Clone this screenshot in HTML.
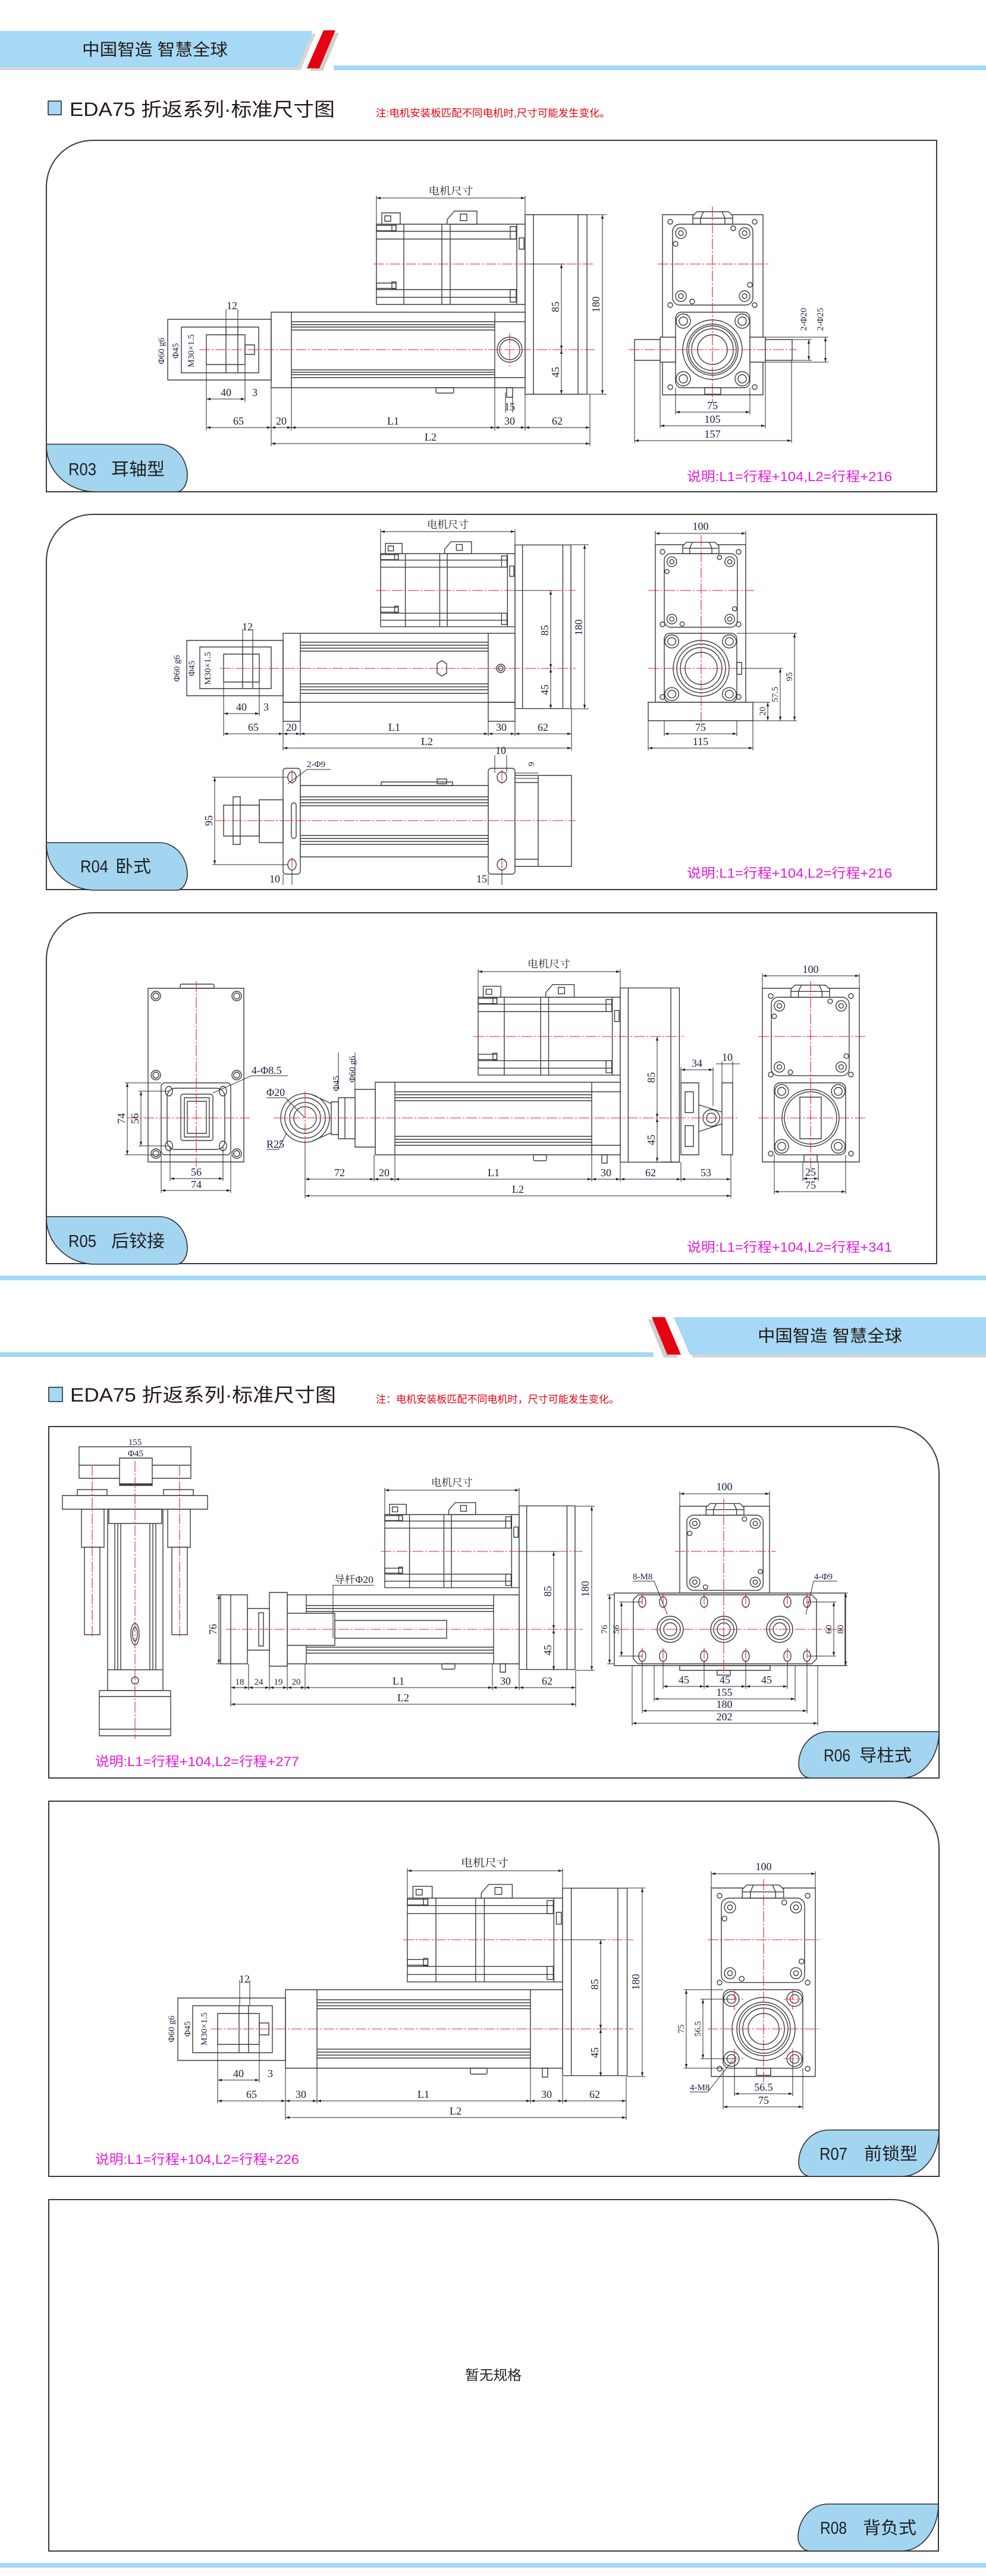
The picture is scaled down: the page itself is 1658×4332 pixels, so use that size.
<!DOCTYPE html>
<html><head><meta charset="utf-8">
<style>
html,body{margin:0;padding:0;background:#fff}
body{width:1658px;height:4332px;overflow:hidden}
svg{display:block}
.k{fill:none;stroke:#3b3b3b;stroke-width:1.4;vector-effect:non-scaling-stroke}
.kf{fill:#fff;stroke:#3b3b3b;stroke-width:1.4;vector-effect:non-scaling-stroke}
.c{fill:none;stroke:#e8202a;stroke-width:1.1;stroke-dasharray:18 3 3 3}
.d{fill:none;stroke:#2a2a2a;stroke-width:1}
.a{marker-start:url(#ar);marker-end:url(#ar)}
.n{font-family:"Liberation Serif",serif;font-size:18px;fill:#1c1c40}
.s{font-size:15px}
.m{text-anchor:middle}
.cj{font-family:"Liberation Sans","Noto Sans CJK SC",sans-serif}
.cs{font-family:"Liberation Serif","Noto Serif CJK SC",serif;fill:#222}
.pk{font-family:"Liberation Sans","Noto Sans CJK SC",sans-serif;font-size:22px;fill:#e619d9}
.tb{fill:#a3d5f1;stroke:#2e2e2e;stroke-width:1.6}
.tt{font-family:"Liberation Sans","Noto Sans CJK SC",sans-serif;font-size:29px;fill:#1e1e1e}
.pn{fill:none;stroke:#3a3a3a;stroke-width:2}
</style></head><body>
<svg width="1658" height="4332" viewBox="0 0 1658 4332" xmlns="http://www.w3.org/2000/svg">
<defs>
<marker id="ar" viewBox="0 0 10 10" refX="10" refY="5" markerWidth="7" markerHeight="7" orient="auto-start-reverse" markerUnits="userSpaceOnUse"><path d="M0 2L10 5L0 8Z" fill="#222"/></marker>
<g id="mp">
<rect class="kf" x="0" y="0" width="250" height="135"/>
<path class="k" d="M0 12H236M0 25H236M0 110H236M0 123H236M46 0V135M110 0V135M124 0V135M236 0V135"/>
<rect class="k" x="0" y="2" width="33" height="9"/><rect class="k" x="26" y="0" width="7" height="12"/>
<rect class="k" x="0" y="99" width="33" height="9"/><rect class="k" x="26" y="97" width="7" height="12"/>
<rect class="k" x="225" y="4" width="10" height="21"/><rect class="k" x="225" y="110" width="10" height="21"/>
<rect class="k" x="240" y="23" width="8" height="19"/>
<rect class="kf" x="9" y="-19" width="31" height="19"/><rect class="k" x="14" y="-14" width="10" height="9"/>
<path class="kf" d="M119 0V-8L131 -22H169V0Z"/><rect class="k" x="141" y="-17" width="11" height="11"/>
<rect class="kf" x="250" y="-16" width="104" height="302"/>
<path class="k" d="M264 -16V286M339 -16V286"/>
</g>
<g id="mf">
<rect class="kf" x="0" y="0" width="135" height="136" rx="12"/>
<circle class="k" cx="14" cy="15" r="9"/><circle class="k" cx="14" cy="15" r="4"/>
<circle class="k" cx="121" cy="15" r="9"/><circle class="k" cx="121" cy="15" r="4"/>
<circle class="k" cx="14" cy="121" r="9"/><circle class="k" cx="14" cy="121" r="4"/>
<circle class="k" cx="121" cy="121" r="9"/><circle class="k" cx="121" cy="121" r="4"/>
<circle class="k" cx="5" cy="33" r="4"/><circle class="k" cx="102" cy="7" r="4"/><circle class="k" cx="130" cy="102" r="4"/><circle class="k" cx="33" cy="130" r="4"/>
<path class="kf" d="M34 0V-14L41 -21H94L101 -14V0Z"/>
<path class="k" d="M34 -10H101M52 -21L47 -10V0M83 -21L88 -10V0"/>
</g>
<g id="lf">
<rect class="kf" x="0" y="0" width="125" height="127" rx="10"/>
<circle class="k" cx="13" cy="15" r="12"/><circle class="k" cx="13" cy="15" r="7"/>
<circle class="k" cx="112" cy="15" r="12"/><circle class="k" cx="112" cy="15" r="7"/>
<circle class="k" cx="13" cy="112" r="12"/><circle class="k" cx="13" cy="112" r="7"/>
<circle class="k" cx="112" cy="112" r="12"/><circle class="k" cx="112" cy="112" r="7"/>
</g>
</defs>

<!-- ============ HEADER 1 ============ -->
<polygon points="0,57 531,57 505,118 0,118" fill="#d6d6d6"/>
<polygon points="0,52 526,52 500,113 0,113" fill="#a5d9f5"/>
<polygon points="550,55 570,55 543,119 522,119" fill="#cfcfcf"/>
<polygon points="544,51 564,51 537,115 516,115" fill="#e60012"/>
<rect x="561" y="110" width="1097" height="8" fill="#a5d9f5"/>
<text x="138" y="93" class="cj" font-size="28" fill="#231815" textLength="245" lengthAdjust="spacingAndGlyphs">中国智造 智慧全球</text>
<rect x="81" y="170" width="22" height="23" fill="#a5d9f5" stroke="#222" stroke-width="1.5"/>
<text x="117" y="195" class="cj" font-size="32" fill="#231815" textLength="446" lengthAdjust="spacingAndGlyphs">EDA75 折返系列·标准尺寸图</text>
<text x="632" y="196" class="cj" font-size="17" fill="#e60012" textLength="394" lengthAdjust="spacingAndGlyphs">注:电机安装板匹配不同电机时,尺寸可能发生变化。</text>

<!-- ============ R03 ============ -->
<path class="pn" d="M78 827V314A78 78 0 0 1 156 236H1575V827Z"/>
<use href="#mp" transform="translate(633,377)"/>
<rect class="kf" x="456" y="525" width="427" height="127"/>
<path class="k" d="M490 525V652M832 525V652M490 541H832M490 546H832M490 550H832M490 555H832M490 622H832M490 626H832M490 630H832M490 635H832M832 541H883M832 635H883"/>
<circle class="k" cx="857" cy="588" r="21"/><circle class="k" cx="857" cy="588" r="17"/>
<rect class="k" x="733" y="652" width="30" height="9" rx="2"/><rect class="k" x="852" y="652" width="10" height="16"/>
<rect class="k" x="282" y="537" width="174" height="102"/>
<rect class="k" x="305" y="550" width="130" height="77"/>
<rect class="k" x="347" y="563" width="65" height="50"/>
<path class="k" d="M380 550V627M400 550V627"/>
<rect class="k" x="412" y="580" width="16" height="16"/>
<path class="c" d="M628 444H1000M335 588H1000M857 560V616"/>
<path class="d" d="M633 329V377M883 329V377M883 444H950M987 663H1020M987 361H1020"/>
<path class="d a" d="M633 333H883"/>
<text class="cs m" x="758" y="327" font-size="17" textLength="75" lengthAdjust="spacingAndGlyphs">电机尺寸</text>
<path class="d a" d="M944 444V588"/><path class="d a" d="M944 588V663"/><path class="d a" d="M1013 361V663"/>
<text class="n m" transform="translate(940,516) rotate(-90)">85</text>
<text class="n m" transform="translate(940,626) rotate(-90)">45</text>
<text class="n m" transform="translate(1008,512) rotate(-90)">180</text>
<path class="d" d="M347 613V724M412 613V676M456 652V750M490 652V724M832 652V724M883 663V724M992 663V750M380 520V563M400 520V563M850 660V694M862 660V694"/>
<path class="d a" d="M347 671H412"/>
<text class="n m" x="380" y="666">40</text><text class="n" x="424" y="666">3</text>
<text class="n m" x="390" y="520">12</text><text class="n m" x="857" y="690">15</text>
<path class="d a" d="M347 719H456"/><path class="d a" d="M456 719H490"/><path class="d a" d="M490 719H832"/><path class="d a" d="M832 719H883"/><path class="d a" d="M883 719H992"/>
<text class="n m" x="401" y="714">65</text><text class="n m" x="473" y="714">20</text><text class="n m" x="661" y="714">L1</text><text class="n m" x="857" y="714">30</text><text class="n m" x="937" y="714">62</text>
<path class="d a" d="M456 746H992"/><text class="n m" x="724" y="741">L2</text>
<text class="n m s" transform="translate(276,590) rotate(-90)">Φ60 g6</text>
<text class="n m s" transform="translate(300,590) rotate(-90)">Φ45</text>
<text class="n m s" transform="translate(326,590) rotate(-90)">M30×1.5</text>
<!-- R03 right view -->
<rect class="kf" x="1114" y="361" width="169" height="303"/>
<use href="#mf" transform="translate(1131,377)"/>
<use href="#lf" transform="translate(1136,525)"/>
<circle class="k" cx="1198" cy="588" r="50"/><circle class="k" cx="1198" cy="588" r="43"/><circle class="k" cx="1198" cy="588" r="40"/><circle class="k" cx="1198" cy="588" r="35"/><circle class="k" cx="1198" cy="588" r="25"/>
<rect class="kf" x="1110" y="567" width="26" height="42"/><rect class="kf" x="1067" y="571" width="43" height="35"/>
<rect class="kf" x="1261" y="567" width="26" height="42"/><rect class="kf" x="1287" y="571" width="45" height="35"/>
<rect class="k" x="1185" y="652" width="27" height="11"/>
<circle class="k" cx="1127" cy="373" r="4"/><circle class="k" cx="1269" cy="373" r="4"/><circle class="k" cx="1127" cy="513" r="4"/><circle class="k" cx="1269" cy="513" r="4"/><circle class="k" cx="1127" cy="651" r="4"/><circle class="k" cx="1269" cy="651" r="4"/>
<path class="c" d="M1198 347V677M1106 444H1292M1057 588H1340"/>
<path class="d" d="M1136 652V697M1261 652V697M1110 609V720M1287 609V720M1067 606V745M1331 606V745M1332 571H1365M1332 606H1365M1287 567H1393M1287 609H1393"/>
<path class="d a" d="M1136 693H1261"/><path class="d a" d="M1110 716H1287"/><path class="d a" d="M1067 741H1331"/>
<path class="d a" d="M1360 571V606"/><path class="d a" d="M1388 567V609"/>
<text class="n m" x="1198" y="688">75</text><text class="n m" x="1198" y="711">105</text><text class="n m" x="1198" y="736">157</text>
<text class="n m s" transform="translate(1356,537) rotate(-90)">2-Φ20</text>
<text class="n m s" transform="translate(1384,537) rotate(-90)">2-Φ25</text>
<path class="tb" d="M78 747H268A47 53 0 0 1 315 800A18 27 0 0 1 297 827H160A82 77 0 0 1 78 750Z"/>
<text x="115" y="799" class="tt" textLength="47" lengthAdjust="spacingAndGlyphs">R03</text>
<text x="187" y="799" class="tt" textLength="90" lengthAdjust="spacingAndGlyphs">耳轴型</text>
<text x="1155" y="809" class="pk" textLength="345" lengthAdjust="spacingAndGlyphs">说明:L1=行程+104,L2=行程+216</text>

<!-- ============ R04 ============ -->
<path class="pn" d="M78 1496V943A78 78 0 0 1 156 865H1575V1496Z"/>
<use href="#mp" transform="translate(640,931) scale(0.904,0.911)"/>
<rect class="kf" x="476" y="1065" width="390" height="116"/>
<path class="k" d="M505 1065V1181M821 1065V1181M505 1080H821M505 1085H821M505 1090H821M505 1095H821M505 1150H821M505 1155H821M505 1160H821M505 1166H821"/>
<path class="k" d="M743 1111L751 1116V1132L743 1137L735 1132V1116Z"/>
<circle class="k" cx="842" cy="1124" r="7"/><circle class="k" cx="842" cy="1124" r="4"/>
<rect class="k" x="476" y="1181" width="29" height="32"/><rect class="k" x="821" y="1181" width="45" height="32"/>
<rect class="k" x="314" y="1077" width="162" height="93"/>
<rect class="k" x="336" y="1088" width="120" height="70"/>
<rect class="k" x="376" y="1100" width="60" height="47"/>
<path class="k" d="M408 1088V1158M425 1088V1158"/>
<path class="c" d="M632 993H968M370 1124H968"/>
<path class="d" d="M640 890V931M866 890V931M960 916H990M960 1192H990M866 993H930"/>
<path class="d a" d="M640 894H866"/>
<text class="cs m" x="753" y="888" font-size="17" textLength="70" lengthAdjust="spacingAndGlyphs">电机尺寸</text>
<path class="d a" d="M926 993V1124"/><path class="d a" d="M926 1124V1192"/><path class="d a" d="M983 916V1192"/>
<text class="n m" transform="translate(922,1060) rotate(-90)">85</text>
<text class="n m" transform="translate(922,1160) rotate(-90)">45</text>
<text class="n m" transform="translate(979,1055) rotate(-90)">180</text>
<path class="d" d="M376 1147V1238M436 1147V1204M476 1213V1262M505 1213V1238M821 1213V1238M866 1213V1238M961 1192V1262M408 1058V1088M425 1058V1088"/>
<path class="d a" d="M376 1200H436"/>
<text class="n m" x="406" y="1195">40</text><text class="n" x="443" y="1195">3</text><text class="n m" x="416" y="1060">12</text>
<path class="d a" d="M376 1234H476"/><path class="d a" d="M476 1234H505"/><path class="d a" d="M505 1234H821"/><path class="d a" d="M821 1234H866"/><path class="d a" d="M866 1234H961"/>
<text class="n m" x="426" y="1229">65</text><text class="n m" x="490" y="1229">20</text><text class="n m" x="663" y="1229">L1</text><text class="n m" x="843" y="1229">30</text><text class="n m" x="913" y="1229">62</text>
<path class="d a" d="M476 1258H961"/><text class="n m" x="718" y="1253">L2</text>
<text class="n m s" transform="translate(302,1124) rotate(-90)">Φ60 g6</text>
<text class="n m s" transform="translate(327,1124) rotate(-90)">Φ45</text>
<text class="n m s" transform="translate(354,1124) rotate(-90)">M30×1.5</text>
<!-- R04 right -->
<rect class="kf" x="1102" y="916" width="152" height="265"/>
<use href="#mf" transform="translate(1117,931) scale(0.91)"/>
<use href="#lf" transform="translate(1117,1065) scale(0.976,0.913)"/>
<circle class="k" cx="1179" cy="1124" r="47"/><circle class="k" cx="1179" cy="1124" r="41"/><circle class="k" cx="1179" cy="1124" r="35"/><circle class="k" cx="1179" cy="1124" r="27"/>
<rect class="kf" x="1090" y="1181" width="176" height="31"/>
<rect class="k" x="1239" y="1114" width="8" height="20"/>
<circle class="k" cx="1114" cy="928" r="4"/><circle class="k" cx="1242" cy="928" r="4"/><circle class="k" cx="1114" cy="1050" r="4"/><circle class="k" cx="1242" cy="1050" r="4"/><circle class="k" cx="1114" cy="1172" r="4"/><circle class="k" cx="1242" cy="1172" r="4"/>
<path class="c" d="M1179 900V1218M1090 993H1268M1090 1124H1255"/>
<path class="d" d="M1102 893V916M1254 893V916M1117 1212V1238M1239 1212V1238M1090 1212V1262M1266 1212V1262M1239 1065H1340M1247 1124H1316M1266 1212H1340M1266 1181H1295"/>
<path class="d a" d="M1102 897H1254"/><path class="d a" d="M1117 1234H1239"/><path class="d a" d="M1090 1258H1266"/>
<path class="d a" d="M1336 1065V1212"/><path class="d a" d="M1312 1124V1212"/><path class="d a" d="M1291 1181V1212"/>
<text class="n m" x="1178" y="891">100</text><text class="n m" x="1178" y="1229">75</text><text class="n m" x="1178" y="1253">115</text>
<text class="n m s" transform="translate(1332,1138) rotate(-90)">95</text>
<text class="n m s" transform="translate(1308,1168) rotate(-90)">57.5</text>
<text class="n m s" transform="translate(1287,1196) rotate(-90)">20</text>
<!-- R04 bottom view -->
<rect class="kf" x="476" y="1292" width="29" height="178" rx="5"/>
<rect class="kf" x="821" y="1292" width="45" height="178" rx="5"/>
<ellipse class="k" cx="491" cy="1307" rx="7" ry="9"/><ellipse class="k" cx="491" cy="1454" rx="7" ry="9"/>
<ellipse class="k" cx="844" cy="1307" rx="8" ry="9"/><ellipse class="k" cx="844" cy="1454" rx="8" ry="9"/>
<rect class="kf" x="505" y="1321" width="316" height="120"/>
<path class="k" d="M505 1340H821M505 1345H821M505 1350H821M505 1355H821M505 1405H821M505 1410H821M505 1415H821M505 1420H821"/>
<rect class="k" x="641" y="1315" width="120" height="6"/><rect class="k" x="735" y="1310" width="16" height="8"/>
<rect class="kf" x="866" y="1304" width="95" height="153"/>
<path class="k" d="M866 1316H905M866 1445H905M905 1304V1457"/>
<rect class="k" x="436" y="1345" width="40" height="72"/>
<rect class="k" x="376" y="1354" width="60" height="52"/>
<rect class="k" x="392" y="1340" width="12" height="80"/>
<rect class="k" x="490" y="1350" width="8" height="60" rx="4"/>
<path class="c" d="M362 1380H968M491 1295V1320M491 1442V1466M844 1295V1320M844 1442V1466"/>
<path class="d" d="M357 1307H484M357 1454H484M476 1470V1488M491 1463V1488M821 1470V1488M844 1463V1488M832 1270V1300M852 1270V1300M866 1300H905M866 1309H905"/>
<path class="d a" d="M361 1307V1454"/>
<text class="n m" transform="translate(357,1380) rotate(-90)">95</text>
<path class="d" d="M484 1318L516 1294H556"/>
<text class="n s" x="516" y="1290">2-Φ9</text>
<text class="n m" x="842" y="1268">10</text>
<text class="n m s" transform="translate(898,1285) rotate(-90)">9</text>
<text class="n m" x="462" y="1484">10</text><text class="n m" x="810" y="1484">15</text>
<path class="tb" d="M78 1417H268A47 53 0 0 1 315 1470A18 27 0 0 1 297 1497H160A82 77 0 0 1 78 1420Z"/>
<text x="135" y="1467" class="tt" textLength="47" lengthAdjust="spacingAndGlyphs">R04</text>
<text x="194" y="1467" class="tt" textLength="60" lengthAdjust="spacingAndGlyphs">卧式</text>
<text x="1155" y="1476" class="pk" textLength="345" lengthAdjust="spacingAndGlyphs">说明:L1=行程+104,L2=行程+216</text>

<!-- ============ R05 ============ -->
<path class="pn" d="M78 2125V1613A78 78 0 0 1 156 1535H1575V2125Z"/>
<!-- left end view -->
<rect class="kf" x="249" y="1662" width="161" height="292"/>
<rect class="k" x="303" y="1655" width="57" height="7" rx="2"/>
<circle class="k" cx="262" cy="1675" r="8"/><circle class="k" cx="262" cy="1675" r="5"/>
<circle class="k" cx="398" cy="1675" r="8"/><circle class="k" cx="398" cy="1675" r="5"/>
<circle class="k" cx="262" cy="1808" r="8"/><circle class="k" cx="262" cy="1808" r="5"/>
<circle class="k" cx="398" cy="1808" r="8"/><circle class="k" cx="398" cy="1808" r="5"/>
<circle class="k" cx="262" cy="1940" r="8"/><circle class="k" cx="262" cy="1940" r="5"/>
<circle class="k" cx="398" cy="1940" r="8"/><circle class="k" cx="398" cy="1940" r="5"/>
<rect class="kf" x="271" y="1821" width="117" height="121" rx="6"/>
<rect class="k" x="281" y="1830" width="97" height="103" rx="14"/>
<ellipse class="k" cx="284" cy="1835" rx="6" ry="8"/><ellipse class="k" cx="375" cy="1835" rx="6" ry="8"/><ellipse class="k" cx="284" cy="1927" rx="6" ry="8"/><ellipse class="k" cx="375" cy="1927" rx="6" ry="8"/>
<rect class="k" x="304" y="1840" width="54" height="78" rx="4"/>
<rect class="k" x="310" y="1846" width="42" height="66"/>
<rect class="k" x="315" y="1852" width="32" height="54"/>
<path class="c" d="M330 1650V1962M214 1880H420"/>
<path class="d" d="M210 1821H271M210 1942H271M233 1835H284M233 1927H284M286 1927V1986M375 1927V1986M271 1942V2006M388 1942V2006"/>
<path class="d a" d="M214 1821V1942"/><path class="d a" d="M237 1835V1927"/>
<path class="d a" d="M286 1982H375"/><path class="d a" d="M271 2002H388"/>
<text class="n m" transform="translate(210,1881) rotate(-90)">74</text>
<text class="n m" transform="translate(233,1881) rotate(-90)">56</text>
<text class="n m" x="330" y="1977">56</text><text class="n m" x="330" y="1998">74</text>
<path class="d" d="M358 1838L423 1809H484"/>
<text class="n" x="423" y="1806">4-Φ8.5</text>
<!-- middle side view -->
<use href="#mp" transform="translate(804,1677) scale(0.956,0.97)"/>
<rect class="kf" x="631" y="1820" width="412" height="122"/>
<path class="k" d="M664 1820V1942M995 1820V1942M664 1836H995M664 1841H995M664 1846H995M664 1851H995M664 1911H995M664 1916H995M664 1921H995M664 1926H995M995 1836H1043M995 1926H1043"/>
<rect class="k" x="897" y="1942" width="22" height="10" rx="2"/><rect class="k" x="1012" y="1942" width="9" height="14"/>
<rect class="kf" x="597" y="1832" width="34" height="97"/>
<rect class="kf" x="569" y="1846" width="28" height="69"/>
<path class="k" d="M580 1846V1915"/>
<rect class="kf" x="557" y="1853" width="12" height="55"/>
<circle class="k" cx="513" cy="1880" r="41"/><circle class="k" cx="513" cy="1880" r="34"/><circle class="k" cx="513" cy="1880" r="26"/><circle class="k" cx="513" cy="1880" r="19"/>
<path class="k" d="M525 1841L557 1856M525 1919L557 1905"/>
<rect class="kf" x="1145" y="1821" width="30" height="121"/>
<rect class="k" x="1152" y="1836" width="14" height="35"/><rect class="k" x="1152" y="1893" width="14" height="35"/>
<path class="k" d="M1175 1858L1214 1870M1175 1903L1214 1890"/>
<circle class="k" cx="1196" cy="1880" r="14"/><circle class="k" cx="1196" cy="1880" r="8"/>
<rect class="kf" x="1214" y="1821" width="18" height="121"/>
<path class="c" d="M796 1743H1150M460 1880H1240M513 1835V1925"/>
<path class="d" d="M804 1630V1677M1043 1630V1677M1142 1954H1112M569 1770V1832M597 1770V1832M1145 1795V1821M1199 1795V1860M1214 1785V1821M1232 1785V1821"/>
<path class="d a" d="M804 1634H1043"/>
<text class="cs m" x="923" y="1627" font-size="17" textLength="72" lengthAdjust="spacingAndGlyphs">电机尺寸</text>
<path class="d a" d="M1105 1743V1880"/><path class="d a" d="M1105 1880V1954"/>
<text class="n m" transform="translate(1101,1812) rotate(-90)">85</text>
<text class="n m" transform="translate(1101,1917) rotate(-90)">45</text>
<path class="d a" d="M1145 1799H1199"/><path class="d" d="M1204 1789H1244"/>
<text class="n m" x="1172" y="1794">34</text><text class="n m" x="1223" y="1784">10</text>
<path class="d" d="M513 1921V2015M629 1942V1987M664 1942V1987M995 1942V1987M1043 1954V1987M1145 1954V1987M1229 1942V2015"/>
<path class="d a" d="M513 1983H629"/><path class="d a" d="M629 1983H664"/><path class="d a" d="M664 1983H995"/><path class="d a" d="M995 1983H1043"/><path class="d a" d="M1043 1983H1145"/><path class="d a" d="M1145 1983H1229"/>
<text class="n m" x="571" y="1978">72</text><text class="n m" x="646" y="1978">20</text><text class="n m" x="830" y="1978">L1</text><text class="n m" x="1019" y="1978">30</text><text class="n m" x="1094" y="1978">62</text><text class="n m" x="1187" y="1978">53</text>
<path class="d a" d="M513 2011H1229"/><text class="n m" x="871" y="2006">L2</text>
<path class="d" d="M448 1846H480L513 1880M448 1933H468L482 1905"/>
<text class="n" x="448" y="1843">Φ20</text><text class="n" x="448" y="1930">R25</text>
<text class="n m s" transform="translate(570,1822) rotate(-90)">Φ45</text>
<text class="n m s" transform="translate(597,1798) rotate(-90)">Φ60 g6</text>
<!-- right end view -->
<rect class="kf" x="1282" y="1662" width="163" height="292"/>
<use href="#mf" transform="translate(1297,1677) scale(0.97)"/>
<use href="#lf" transform="translate(1302,1821) scale(0.96,0.953)"/>
<circle class="k" cx="1363" cy="1880" r="48"/><circle class="k" cx="1363" cy="1880" r="44"/>
<path class="k" d="M1345 1845H1381V1915H1345Z"/>
<circle class="k" cx="1296" cy="1675" r="4"/><circle class="k" cx="1431" cy="1675" r="4"/><circle class="k" cx="1296" cy="1807" r="4"/><circle class="k" cx="1431" cy="1807" r="4"/><circle class="k" cx="1296" cy="1940" r="4"/><circle class="k" cx="1431" cy="1940" r="4"/>
<rect class="k" x="1352" y="1942" width="22" height="12"/>
<path class="c" d="M1363 1650V1975M1275 1743H1455M1275 1880H1455"/>
<path class="d" d="M1282 1637V1662M1445 1637V1662M1350 1954V1986M1376 1954V1986M1302 1942V2008M1422 1942V2008"/>
<path class="d a" d="M1282 1641H1445"/><path class="d a" d="M1350 1982H1376"/><path class="d a" d="M1302 2004H1422"/>
<text class="n m" x="1363" y="1636">100</text><text class="n m" x="1363" y="1977">25</text><text class="n m" x="1363" y="1999">75</text>
<path class="tb" d="M78 2046H268A47 53 0 0 1 315 2099A18 27 0 0 1 297 2126H160A82 77 0 0 1 78 2049Z"/>
<text x="115" y="2097" class="tt" textLength="47" lengthAdjust="spacingAndGlyphs">R05</text>
<text x="187" y="2097" class="tt" textLength="90" lengthAdjust="spacingAndGlyphs">后铰接</text>
<text x="1155" y="2105" class="pk" textLength="345" lengthAdjust="spacingAndGlyphs">说明:L1=行程+104,L2=行程+341</text>

<!-- ============ SEPARATOR + HEADER 2 ============ -->
<rect x="0" y="2145" width="1658" height="8" fill="#a5d9f5"/>
<rect x="0" y="2274" width="1099" height="8" fill="#a5d9f5"/>
<polygon points="1090,2219 1112,2219 1139,2283 1116,2283" fill="#cfcfcf"/>
<polygon points="1096,2215 1118,2215 1145,2278 1122,2278" fill="#e60012"/>
<polygon points="1138,2220 1658,2220 1658,2283 1165,2283" fill="#d6d6d6"/>
<polygon points="1133,2215 1658,2215 1658,2278 1160,2278" fill="#a5d9f5"/>
<text x="1274" y="2256" class="cj" font-size="28" fill="#231815" textLength="243" lengthAdjust="spacingAndGlyphs">中国智造 智慧全球</text>
<rect x="82" y="2333" width="23" height="24" fill="#a5d9f5" stroke="#222" stroke-width="1.5"/>
<text x="118" y="2357" class="cj" font-size="32" fill="#231815" textLength="447" lengthAdjust="spacingAndGlyphs">EDA75 折返系列·标准尺寸图</text>
<text x="632" y="2359" class="cj" font-size="17" fill="#e60012" textLength="409" lengthAdjust="spacingAndGlyphs">注：电机安装板匹配不同电机时，尺寸可能发生变化。</text>

<!-- ============ R06 ============ -->
<path class="pn" d="M82 2399H1501A78 78 0 0 1 1579 2477V2990H82Z"/>
<!-- left view -->
<rect class="kf" x="133" y="2433" width="188" height="53"/>
<path class="k" d="M133 2464H321"/>
<rect class="kf" x="201" y="2452" width="55" height="46"/>
<path d="M201 2496H256" stroke="#3b3b3b" stroke-width="3"/>
<rect class="kf" x="130" y="2505" width="50" height="10"/><rect class="kf" x="275" y="2505" width="50" height="10"/>
<rect class="kf" x="105" y="2515" width="244" height="23"/>
<rect class="kf" x="137" y="2538" width="38" height="64"/><rect class="kf" x="282" y="2538" width="38" height="64"/>
<rect class="kf" x="142" y="2602" width="26" height="147"/><rect class="kf" x="289" y="2602" width="26" height="147"/>
<rect class="kf" x="181" y="2538" width="93" height="305"/>
<rect class="k" x="183" y="2538" width="89" height="24"/>
<path class="k" d="M193 2562V2808M198 2562V2808M203 2562V2808M252 2562V2808M257 2562V2808M262 2562V2808M181 2808H274"/>
<ellipse class="k" cx="227" cy="2748" rx="7" ry="18"/><ellipse class="k" cx="227" cy="2748" rx="4" ry="12"/>
<circle class="k" cx="227" cy="2826" r="6"/>
<rect class="kf" x="167" y="2843" width="120" height="76"/>
<path class="k" d="M167 2853H287M167 2908H287"/>
<path class="c" d="M227 2457V2924M155 2464V2752M302 2464V2752"/>
<path class="d" d="M201 2452H256"/>
<text class="n m s" x="227" y="2430">155</text><text class="n m s" x="228" y="2449">Φ45</text>
<!-- middle side -->
<use href="#mp" transform="translate(647,2547) scale(0.904,0.911)"/>
<rect class="kf" x="483" y="2682" width="390" height="116"/>
<path class="k" d="M515 2682V2798M830 2682V2798M515 2700H830M515 2705H830M515 2710H830M515 2770H830M515 2775H830M515 2780H830"/>
<rect class="kf" x="483" y="2713" width="80" height="54"/>
<rect class="kf" x="563" y="2725" width="188" height="30"/>
<rect class="kf" x="453" y="2678" width="30" height="124"/>
<rect class="kf" x="416" y="2705" width="37" height="70"/>
<rect class="k" x="435" y="2712" width="8" height="56"/>
<rect class="kf" x="371" y="2682" width="45" height="116"/>
<path class="k" d="M388 2682V2798"/>
<rect class="k" x="743" y="2798" width="22" height="9" rx="2"/><rect class="k" x="841" y="2798" width="9" height="14"/>
<path class="c" d="M640 2609H980M380 2740H980"/>
<path class="d" d="M647 2502V2547M873 2502V2547M968 2533H1000M968 2809H1000M873 2609H937M364 2682H371M364 2798H371"/>
<path class="d a" d="M647 2506H873"/>
<text class="cs m" x="760" y="2499" font-size="17" textLength="70" lengthAdjust="spacingAndGlyphs">电机尺寸</text>
<path class="d a" d="M931 2609V2740"/><path class="d a" d="M931 2740V2809"/><path class="d a" d="M995 2533V2809"/>
<text class="n m" transform="translate(927,2676) rotate(-90)">85</text>
<text class="n m" transform="translate(927,2775) rotate(-90)">45</text>
<text class="n m" transform="translate(990,2672) rotate(-90)">180</text>
<path class="d a" d="M368 2682V2798"/>
<text class="n m" transform="translate(364,2740) rotate(-90)">76</text>
<path class="d" d="M388 2798V2870M418 2798V2842M453 2802V2842M483 2798V2842M513 2798V2842M828 2798V2842M873 2809V2842M968 2809V2870"/>
<path class="d a" d="M388 2838H418"/><path class="d a" d="M418 2838H453"/><path class="d a" d="M453 2838H483"/><path class="d a" d="M483 2838H513"/><path class="d a" d="M513 2838H828"/><path class="d a" d="M828 2838H873"/><path class="d a" d="M873 2838H968"/>
<text class="n m s" x="403" y="2833">18</text><text class="n m s" x="435" y="2833">24</text><text class="n m s" x="468" y="2833">19</text><text class="n m s" x="498" y="2833">20</text><text class="n m" x="670" y="2833">L1</text><text class="n m" x="850" y="2833">30</text><text class="n m" x="920" y="2833">62</text>
<path class="d a" d="M388 2866H968"/><text class="n m" x="678" y="2861">L2</text>
<path class="d" d="M560 2755V2666H629"/>
<text class="cs" x="562" y="2662" font-size="17" textLength="66" lengthAdjust="spacingAndGlyphs">导杆Φ20</text>
<!-- right view -->
<rect class="kf" x="1143" y="2533" width="151" height="146"/>
<use href="#mf" transform="translate(1155,2548) scale(0.95,0.93)"/>
<rect class="kf" x="1033" y="2679" width="388" height="122"/>
<path class="k" d="M1073 2682H1365L1373 2690V2790L1365 2798H1073L1065 2790V2690Z"/>
<rect class="k" x="1143" y="2801" width="152" height="8"/><rect class="k" x="1206" y="2809" width="22" height="8"/>
<ellipse class="k" cx="1080" cy="2694" rx="6" ry="9"/><ellipse class="k" cx="1115" cy="2694" rx="6" ry="9"/><ellipse class="k" cx="1184" cy="2694" rx="6" ry="9"/><ellipse class="k" cx="1254" cy="2694" rx="6" ry="9"/><ellipse class="k" cx="1324" cy="2694" rx="6" ry="9"/><ellipse class="k" cx="1357" cy="2694" rx="6" ry="9"/>
<ellipse class="k" cx="1080" cy="2785" rx="6" ry="9"/><ellipse class="k" cx="1115" cy="2785" rx="6" ry="9"/><ellipse class="k" cx="1184" cy="2785" rx="6" ry="9"/><ellipse class="k" cx="1254" cy="2785" rx="6" ry="9"/><ellipse class="k" cx="1324" cy="2785" rx="6" ry="9"/><ellipse class="k" cx="1357" cy="2785" rx="6" ry="9"/>
<circle class="k" cx="1127" cy="2740" r="22"/><circle class="k" cx="1127" cy="2740" r="17"/><circle class="k" cx="1127" cy="2740" r="11"/>
<circle class="k" cx="1217" cy="2740" r="22"/><circle class="k" cx="1217" cy="2740" r="17"/><circle class="k" cx="1217" cy="2740" r="11"/>
<circle class="k" cx="1311" cy="2740" r="22"/><circle class="k" cx="1311" cy="2740" r="17"/><circle class="k" cx="1311" cy="2740" r="11"/>
<path class="c" d="M1217 2520V2815M1135 2609H1305M1040 2740H1420M1080 2680V2708M1115 2680V2708M1184 2680V2708M1254 2680V2708M1324 2680V2708M1357 2680V2708M1080 2771V2799M1115 2771V2799M1184 2771V2799M1254 2771V2799M1324 2771V2799M1357 2771V2799"/>
<path class="d" d="M1143 2508V2533M1294 2508V2533M1115 2794V2840M1184 2794V2840M1254 2794V2840M1324 2794V2840M1100 2801V2861M1337 2801V2861M1080 2794V2881M1357 2794V2881M1063 2801V2902M1375 2801V2902M1021 2682H1033M1021 2798H1033M1041 2694H1080M1041 2785H1080M1357 2694H1406M1357 2785H1406M1421 2679H1426M1421 2801H1426"/>
<path class="d a" d="M1143 2512H1294"/>
<path class="d a" d="M1115 2836H1184"/><path class="d a" d="M1184 2836H1254"/><path class="d a" d="M1254 2836H1324"/>
<path class="d a" d="M1100 2857H1337"/><path class="d a" d="M1080 2877H1357"/><path class="d a" d="M1063 2898H1375"/>
<path class="d a" d="M1025 2682V2798"/><path class="d a" d="M1045 2694V2785"/><path class="d a" d="M1402 2694V2785"/><path class="d a" d="M1422 2679V2801"/>
<text class="n m" x="1218" y="2506">100</text>
<text class="n m" x="1150" y="2831">45</text><text class="n m" x="1219" y="2831">45</text><text class="n m" x="1289" y="2831">45</text>
<text class="n m" x="1218" y="2852">155</text><text class="n m" x="1218" y="2872">180</text><text class="n m" x="1218" y="2893">202</text>
<text class="n m s" transform="translate(1021,2740) rotate(-90)">76</text>
<text class="n m s" transform="translate(1041,2740) rotate(-90)">56</text>
<text class="n m s" transform="translate(1398,2740) rotate(-90)">60</text>
<text class="n m s" transform="translate(1418,2740) rotate(-90)">80</text>
<path class="d" d="M1064 2659H1100L1122 2715M1408 2659H1368L1355 2715"/>
<text class="n s" x="1064" y="2656">8-M8</text><text class="n s" x="1369" y="2656">4-Φ9</text>
<path class="tb" d="M1393 2912H1579A62 78 0 0 1 1517 2990H1363A20 23 0 0 1 1343 2967A50 55 0 0 1 1393 2912Z"/>
<text x="1385" y="2962" class="tt" textLength="45" lengthAdjust="spacingAndGlyphs">R06</text>
<text x="1445" y="2962" class="tt" textLength="88" lengthAdjust="spacingAndGlyphs">导柱式</text>
<text x="160" y="2970" class="pk" textLength="343" lengthAdjust="spacingAndGlyphs">说明:L1=行程+104,L2=行程+277</text>

<!-- ============ R07 ============ -->
<path class="pn" d="M82 3029H1501A78 78 0 0 1 1579 3107V3660H82Z"/>
<use href="#mp" transform="translate(685,3192) scale(1.044)"/>
<rect class="kf" x="480" y="3346" width="466" height="132"/>
<path class="k" d="M533 3346V3478M892 3346V3478M533 3363H892M533 3368H892M533 3373H892M533 3378H892M533 3446H892M533 3451H892M533 3456H892M533 3461H892"/>
<rect class="k" x="299" y="3360" width="181" height="105"/>
<rect class="k" x="324" y="3373" width="134" height="79"/>
<rect class="k" x="366" y="3386" width="70" height="52"/>
<path class="k" d="M402 3373V3452M418 3373V3452"/>
<rect class="k" x="436" y="3402" width="16" height="20"/>
<rect class="k" x="791" y="3478" width="28" height="10" rx="2"/><rect class="k" x="912" y="3478" width="9" height="15"/>
<path class="c" d="M678 3262H1065M355 3412H1065"/>
<path class="d" d="M685 3142V3192M946 3142V3192M1055 3175H1085M1055 3492H1085M946 3262H1016"/>
<path class="d a" d="M685 3146H946"/>
<text class="cs m" x="815" y="3139" font-size="18" textLength="80" lengthAdjust="spacingAndGlyphs">电机尺寸</text>
<path class="d a" d="M1010 3262V3412"/><path class="d a" d="M1010 3412V3492"/><path class="d a" d="M1080 3175V3492"/>
<text class="n m" transform="translate(1006,3337) rotate(-90)">85</text>
<text class="n m" transform="translate(1006,3452) rotate(-90)">45</text>
<text class="n m" transform="translate(1075,3333) rotate(-90)">180</text>
<path class="d" d="M403 3330V3373M420 3330V3373M366 3438V3537M436 3438V3502M480 3478V3565M533 3478V3537M892 3478V3537M946 3492V3537M1053 3492V3565"/>
<text class="n m" x="411" y="3334">12</text>
<path class="d a" d="M366 3498H436"/>
<text class="n m" x="401" y="3493">40</text><text class="n" x="450" y="3493">3</text>
<path class="d a" d="M366 3533H480"/><path class="d a" d="M480 3533H533"/><path class="d a" d="M533 3533H892"/><path class="d a" d="M892 3533H946"/><path class="d a" d="M946 3533H1053"/>
<text class="n m" x="423" y="3528">65</text><text class="n m" x="506" y="3528">30</text><text class="n m" x="712" y="3528">L1</text><text class="n m" x="919" y="3528">30</text><text class="n m" x="1000" y="3528">62</text>
<path class="d a" d="M480 3561H1053"/><text class="n m" x="766" y="3556">L2</text>
<text class="n m s" transform="translate(293,3412) rotate(-90)">Φ60 g6</text>
<text class="n m s" transform="translate(320,3412) rotate(-90)">Φ45</text>
<text class="n m s" transform="translate(348,3412) rotate(-90)">M30×1.5</text>
<!-- right view -->
<rect class="kf" x="1196" y="3175" width="175" height="317"/>
<use href="#mf" transform="translate(1213,3192) scale(1.037,1.044)"/>
<use href="#lf" transform="translate(1216,3346) scale(1.072,1.04)"/>
<circle class="k" cx="1284" cy="3412" r="53"/><circle class="k" cx="1284" cy="3412" r="45"/><circle class="k" cx="1284" cy="3412" r="41"/><circle class="k" cx="1284" cy="3412" r="35"/><circle class="k" cx="1284" cy="3412" r="26"/>
<circle class="k" cx="1210" cy="3188" r="4"/><circle class="k" cx="1358" cy="3188" r="4"/><circle class="k" cx="1210" cy="3334" r="4"/><circle class="k" cx="1358" cy="3334" r="4"/><circle class="k" cx="1210" cy="3479" r="4"/><circle class="k" cx="1358" cy="3479" r="4"/>
<rect class="k" x="1272" y="3478" width="24" height="12"/>
<path class="c" d="M1284 3160V3505M1190 3262H1380M1190 3412H1380M1235 3345V3380M1333 3345V3380M1235 3445V3480M1333 3445V3480M1220 3362H1250M1318 3362H1348M1220 3462H1250M1318 3462H1348"/>
<path class="d" d="M1196 3147V3175M1371 3147V3175M1235 3462V3525M1333 3462V3525M1216 3478V3547M1350 3478V3547M1150 3346H1216M1150 3478H1216M1178 3362H1235M1178 3462H1235"/>
<path class="d a" d="M1196 3151H1371"/><path class="d a" d="M1235 3521H1333"/><path class="d a" d="M1216 3543H1350"/>
<path class="d a" d="M1154 3346V3478"/><path class="d a" d="M1182 3362V3462"/>
<text class="n m" x="1284" y="3145">100</text><text class="n m" x="1284" y="3516">56.5</text><text class="n m" x="1284" y="3538">75</text>
<text class="n m s" transform="translate(1150,3412) rotate(-90)">75</text>
<text class="n m s" transform="translate(1178,3412) rotate(-90)">56.5</text>
<path class="d" d="M1160 3518H1190L1232 3465"/>
<text class="n s" x="1160" y="3515">4-M8</text>
<path class="tb" d="M1393 3582H1579A62 78 0 0 1 1517 3660H1363A20 23 0 0 1 1343 3637A50 55 0 0 1 1393 3582Z"/>
<text x="1378" y="3632" class="tt" textLength="47" lengthAdjust="spacingAndGlyphs">R07</text>
<text x="1453" y="3632" class="tt" textLength="90" lengthAdjust="spacingAndGlyphs">前锁型</text>
<text x="160" y="3639" class="pk" textLength="343" lengthAdjust="spacingAndGlyphs">说明:L1=行程+104,L2=行程+226</text>

<!-- ============ R08 ============ -->
<path class="pn" d="M82 3699H1500A78 78 0 0 1 1578 3777V4290H82Z"/>
<text x="782" y="4002" class="cj" font-size="23" fill="#222" textLength="95" lengthAdjust="spacingAndGlyphs">暂无规格</text>
<path class="tb" d="M1392 4211H1578A62 79 0 0 1 1516 4290H1362A20 23 0 0 1 1342 4267A50 56 0 0 1 1392 4211Z"/>
<text x="1379" y="4261" class="tt" textLength="45" lengthAdjust="spacingAndGlyphs">R08</text>
<text x="1451" y="4261" class="tt" textLength="90" lengthAdjust="spacingAndGlyphs">背负式</text>
<rect x="0" y="4310" width="1658" height="8" fill="#a5d9f5"/>
</svg>
</body></html>
